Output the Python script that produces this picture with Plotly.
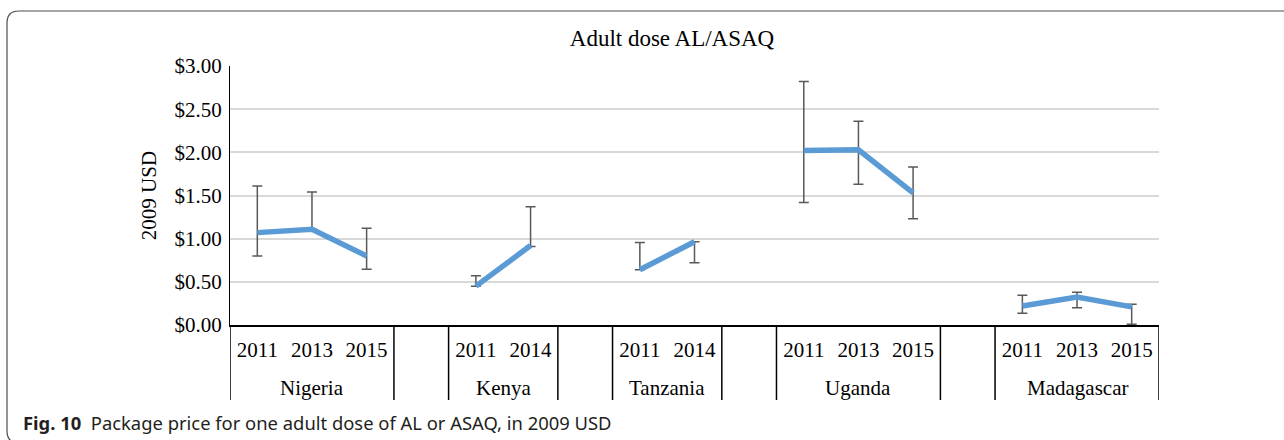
import plotly.graph_objects as go

# ---- data ----
countries = ["Nigeria", "Kenya", "Tanzania", "Uganda", "Madagascar"]

nigeria_years = ["2011", "2013", "2015"]
nigeria_price = [1.07, 1.11, 0.80]
nigeria_upper = [1.61, 1.54, 1.12]
nigeria_lower = [0.80, 1.11, 0.645]

kenya_years = ["2011", "2014"]
kenya_price = [0.45, 0.92]
kenya_upper = [0.57, 1.37]
kenya_lower = [0.45, 0.91]

tanzania_years = ["2011", "2014"]
tanzania_price = [0.64, 0.965]
tanzania_upper = [0.955, 0.965]
tanzania_lower = [0.64, 0.72]

uganda_years = ["2011", "2013", "2015"]
uganda_price = [2.02, 2.03, 1.53]
uganda_upper = [2.82, 2.36, 1.83]
uganda_lower = [1.42, 1.63, 1.23]

madagascar_years = ["2011", "2013", "2015"]
madagascar_price = [0.22, 0.325, 0.21]
madagascar_upper = [0.345, 0.38, 0.24]
madagascar_lower = [0.135, 0.20, 0.01]

y_ticks = [0, 0.5, 1.0, 1.5, 2.0, 2.5, 3.0]
y_tick_labels = ["$0.00", "$0.50", "$1.00", "$1.50", "$2.00", "$2.50", "$3.00"]

title_text = "Adult dose AL/ASAQ"
y_title = "2009 USD"
caption_bold = "Fig. 10"
caption_text = "Package price for one adult dose of AL or ASAQ, in 2009 USD"

groups_data = [
    (countries[0], nigeria_years, nigeria_price, nigeria_upper, nigeria_lower),
    (countries[1], kenya_years, kenya_price, kenya_upper, kenya_lower),
    (countries[2], tanzania_years, tanzania_price, tanzania_upper, tanzania_lower),
    (countries[3], uganda_years, uganda_price, uganda_upper, uganda_lower),
    (countries[4], madagascar_years, madagascar_price, madagascar_upper, madagascar_lower),
]

W, H = 1284, 440
L, R, T, B = 230, 1159, 66, 325

def px_x(p):
    return (p - L) / (R - L)

def px_y(p):
    return (B - p) / (B - T)

serif = "Liberation Serif, Times New Roman, serif"

fig = go.Figure()

tickvals, ticktext = [], []
boundaries = []          # category-slot boundaries for divider lines
group_centers = []
pos = 0
for gi, (name, yrs, pr, up, lo) in enumerate(groups_data):
    xs = list(range(pos, pos + len(yrs)))
    boundaries.append(pos - 0.5)
    fig.add_trace(go.Scatter(
        x=xs, y=pr, mode="lines",
        line=dict(color="#5b9bd5", width=5.5),
        error_y=dict(type="data", symmetric=False,
                     array=[round(u - p, 4) for u, p in zip(up, pr)],
                     arrayminus=[round(p - l, 4) for p, l in zip(pr, lo)],
                     color="#595959", thickness=1.5, width=5),
        showlegend=False, hoverinfo="skip",
    ))
    tickvals += xs
    ticktext += yrs
    group_centers.append((name, (xs[0] + xs[-1]) / 2))
    pos += len(yrs)
    boundaries.append(pos - 0.5)
    if gi < len(groups_data) - 1:
        pos += 1  # blank spacer slot between countries
n_slots = pos

fig.update_layout(
    width=W, height=H,
    margin=dict(l=L, r=W - R, t=T, b=H - B),
    paper_bgcolor="white", plot_bgcolor="white",
    font=dict(family=serif, size=21, color="black"),
    title=dict(text=title_text, x=672 / W, xref="container", xanchor="center",
               y=1 - 38 / H, yref="container", yanchor="middle",
               font=dict(family=serif, size=23, color="black")),
    xaxis=dict(range=[-0.5, n_slots - 0.5], tickvals=tickvals, ticktext=ticktext,
               showline=True, linecolor="black", linewidth=1.5,
               showgrid=False, zeroline=False,
               ticks="outside", ticklen=5, tickcolor="rgba(0,0,0,0)",
               tickfont=dict(family=serif, size=21, color="black")),
    yaxis=dict(range=[0, 3], tickvals=y_ticks, ticktext=y_tick_labels,
               showgrid=True, gridcolor="#d9d9d9", gridwidth=1.5,
               showline=True, linecolor="black", linewidth=1,
               zeroline=False, ticks="", ticklabelstandoff=3,
               title=dict(text=y_title, font=dict(family=serif, size=21), standoff=12),
               tickfont=dict(family=serif, size=21, color="black")),
)

# country labels (second axis level)
for name, cx in group_centers:
    fig.add_annotation(x=cx, y=px_y(388), xref="x", yref="paper",
                       text=name, showarrow=False, xanchor="center", yanchor="middle",
                       font=dict(family=serif, size=21, color="black"))

# divider lines below the axis
for bx in boundaries:
    fig.add_shape(type="line", x0=bx, x1=bx, xref="x", y0=0, y1=px_y(400), yref="paper",
                  line=dict(color="black", width=1.5))

# caption
fig.add_annotation(
    x=px_x(21), y=px_y(422), xref="paper", yref="paper",
    xanchor="left", yanchor="middle", showarrow=False,
    text=f"<b>{caption_bold}</b>&nbsp; {caption_text}",
    font=dict(family="Noto Sans, Open Sans, sans-serif", size=18.4, color="#231f20"),
)

# rounded frame (open on the right, bottom edge just below the visible area)
x0, y0, y1, rad = 7, 11, 443, 12
path = (f"M {px_x(W + 5)},{px_y(y0)} L {px_x(x0 + rad)},{px_y(y0)} "
        f"Q {px_x(x0)},{px_y(y0)} {px_x(x0)},{px_y(y0 + rad)} "
        f"L {px_x(x0)},{px_y(y1 - rad)} "
        f"Q {px_x(x0)},{px_y(y1)} {px_x(x0 + rad)},{px_y(y1)} "
        f"L {px_x(W + 5)},{px_y(y1)}")
fig.add_shape(type="path", path=path, xref="paper", yref="paper",
              line=dict(color="#4d4d4d", width=1.2))

fig.write_html("out.html", config={"displayModeBar": False},
               post_script="document.body.style.margin='0';document.body.style.overflow='hidden';")
